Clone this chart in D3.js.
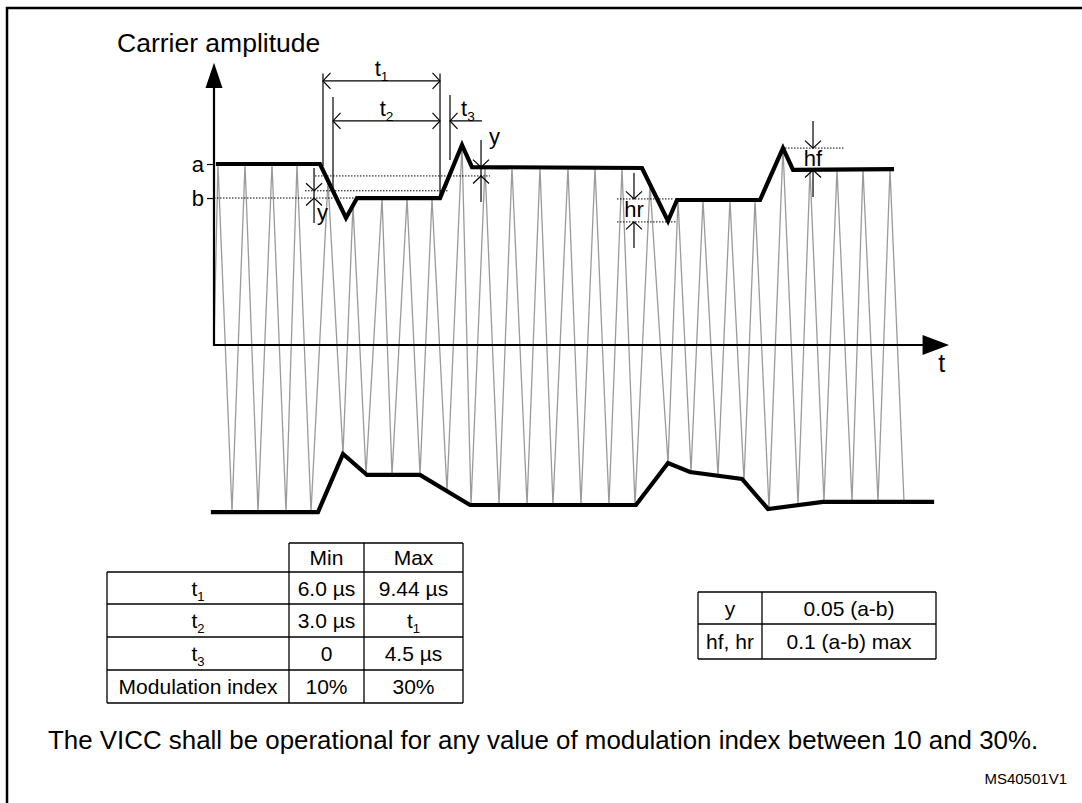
<!DOCTYPE html>
<html><head><meta charset="utf-8">
<script src="https://cdn.jsdelivr.net/npm/d3@7"></script>
<style>
html,body{margin:0;padding:0;background:#fff;}
svg{display:block;}
text{font-family:"Liberation Sans",Arial,Helvetica,sans-serif;fill:#000;}
</style></head><body>
<svg id="chart" width="1082" height="803"></svg>
<script>
// ---------------- DATA (time in arbitrary units 0..100, amplitude with a = 1) ----------------
const levelLabels = ["a", "b"];
const levelValues = [1.0, 0.812];

const topEnvT = [0.54, 14.42, 17.96, 19.46, 30.75, 33.74, 35.10, 58.23, 61.77, 62.99, 74.29, 77.41, 78.78, 92.24];
const topEnvV = [1.000, 1.000, 0.702, 0.812, 0.812, 1.105, 0.983, 0.978, 0.685, 0.801, 0.801, 1.088, 0.967, 0.972];

const botEnvT = [-0.14, 14.15, 17.55, 20.82, 28.03, 34.83, 57.41, 61.77, 64.76, 71.84, 75.37, 82.86, 97.69];
const botEnvV = [-0.923, -0.923, -0.602, -0.718, -0.718, -0.884, -0.884, -0.652, -0.702, -0.740, -0.906, -0.867, -0.867];

const carrierTopT = [0.54, 4.22, 7.89, 11.29, 15.51, 18.91, 22.86, 26.26, 29.66, 33.74, 36.87, 40.54, 44.35, 48.16, 51.84, 55.51, 59.32, 63.13, 66.53, 70.20, 73.61, 77.41, 81.09, 84.76, 88.30, 91.97];
const carrierTopV = [1.000, 1.000, 1.000, 1.000, 0.908, 0.772, 0.812, 0.812, 0.812, 1.105, 0.983, 0.982, 0.981, 0.980, 0.980, 0.978, 0.888, 0.801, 0.801, 0.801, 0.801, 1.088, 0.968, 0.969, 0.971, 0.972];
const carrierBotT = [2.45, 5.99, 9.80, 13.20, 17.55, 20.68, 24.22, 28.03, 31.70, 34.97, 38.78, 42.59, 46.12, 49.93, 53.74, 57.28, 61.77, 64.90, 68.57, 72.11, 75.51, 79.46, 82.99, 86.80, 90.34, 93.88];
const carrierBotV = [-0.923, -0.923, -0.923, -0.923, -0.602, -0.713, -0.718, -0.718, -0.808, -0.884, -0.884, -0.884, -0.884, -0.884, -0.884, -0.884, -0.652, -0.702, -0.723, -0.753, -0.906, -0.885, -0.867, -0.867, -0.867, -0.867];

// dotted reference lines: [tStart, tEnd, value]
const dottedStart = [0, 13.74, 12.38, 54.83, 54.83, 77.69];
const dottedEnd   = [19.46, 37.55, 31.84, 62.45, 62.99, 85.85];
const dottedValue = [0.812, 0.934, 0.852, 0.807, 0.680, 1.088];

// tolerance markers (vertical with inward arrows)
const markerNames = ["y", "y", "hr", "hf"];
const markerT     = [13.61, 36.33, 57.14, 81.50];
const markerUpTip = [0.852, 0.983, 0.807, 1.088];   // arrow pointing down onto this level
const markerLoTip = [0.812, 0.934, 0.680, 0.967];   // arrow pointing up onto this level
const markerTop   = [0.978, 1.133, 0.950, 1.238];
const markerBot   = [0.674, 0.790, 0.536, 0.818];

// timing dimensions
const timeNames = ["1", "2", "3"];
const timeStart = [14.83, 16.19, 30.75];
const timeEnd   = [30.75, 30.75, 32.11];

// tables
const t1Header = ["Min", "Max"];
const t1Params = [["t", "1"], ["t", "2"], ["t", "3"], ["Modulation index", ""]];
const t1Min = ["6.0 µs", "3.0 µs", "0", "10%"];
const t1Max = [["9.44 µs", ""], ["t", "1"], ["4.5 µs", ""], ["30%", ""]];
const t2Params = ["y", "hf, hr"];
const t2Values = ["0.05 (a-b)", "0.1 (a-b) max"];

const footnote = "The VICC shall be operational for any value of modulation index between 10 and 30%.";
const figId = "MS40501V1";

// ---------------- DRAW ----------------
const svg = d3.select("#chart");
const x = d3.scaleLinear().domain([0, 100]).range([214, 949]);
const y = d3.scaleLinear().domain([0, 1]).range([345, 164]);

// frame
svg.append("path").attr("d", "M7,803V8H1082").attr("fill", "none").attr("stroke", "#000").attr("stroke-width", 2.5);

// carrier
const carrierPts = [[0, 0]];
carrierTopT.forEach((t, i) => {
  carrierPts.push([t, carrierTopV[i]]);
  carrierPts.push([carrierBotT[i], carrierBotV[i]]);
});
const line = d3.line().x(d => x(d[0])).y(d => y(d[1]));
svg.append("path").attr("d", line(carrierPts)).attr("fill", "none")
  .attr("stroke", "#9a9a9a").attr("stroke-width", 1.3).attr("stroke-linejoin", "miter");

// dotted lines
dottedValue.forEach((v, i) => {
  svg.append("line").attr("x1", x(dottedStart[i])).attr("x2", x(dottedEnd[i]))
    .attr("y1", y(v)).attr("y2", y(v)).attr("stroke", "#000").attr("stroke-width", 1)
    .attr("stroke-dasharray", "1.5,1.5");
});

// axes
const yAxis = d3.axisLeft(y).tickValues(levelValues).tickFormat((d, i) => levelLabels[i])
  .tickSize(7).tickSizeOuter(0).tickPadding(3);
const yg = svg.append("g").attr("transform", `translate(${x(0)},0)`).call(yAxis);
yg.select(".domain").remove();
yg.selectAll(".tick line").attr("stroke", "#000").attr("stroke-width", 1.2);
yg.selectAll(".tick text").attr("font-size", 22).attr("font-family", '"Liberation Sans",Arial,sans-serif').attr("fill", "#000");

svg.append("line").attr("x1", x(0)).attr("x2", x(0)).attr("y1", y(0) + 1).attr("y2", y(1.43))
  .attr("stroke", "#000").attr("stroke-width", 2.2);
svg.append("path").attr("d", `M${x(0)},${y(1.56)}L${x(0) - 8.5},${y(1.42)}L${x(0) + 8.5},${y(1.42)}Z`).attr("fill", "#000");
svg.append("line").attr("x1", x(0) - 1).attr("x2", x(96.7)).attr("y1", y(0)).attr("y2", y(0))
  .attr("stroke", "#000").attr("stroke-width", 2.2);
svg.append("path").attr("d", `M${x(100)},${y(0)}L${x(96.4)},${y(0) - 10}L${x(96.4)},${y(0) + 10}Z`).attr("fill", "#000");

svg.append("text").attr("x", 117).attr("y", 52).attr("font-size", 26.5).text("Carrier amplitude");
svg.append("text").attr("x", x(99)).attr("y", y(0) + 27).attr("font-size", 25).attr("text-anchor", "middle").text("t");

// envelopes
const topEnv = topEnvT.map((t, i) => [t, topEnvV[i]]);
const botEnv = botEnvT.map((t, i) => [t, botEnvV[i]]);
[topEnv, botEnv].forEach(pts => {
  svg.append("path").attr("d", line(pts)).attr("fill", "none").attr("stroke", "#000")
    .attr("stroke-width", 4.2).attr("stroke-linejoin", "miter").attr("stroke-linecap", "square");
});

// helper: open chevron arrowheads
function chevron(px, py, dir) {
  const a = 8, b = 7.5;
  let d;
  if (dir === "down") d = `M${px - a},${py - b}L${px},${py}L${px + a},${py - b}`;
  if (dir === "up") d = `M${px - a},${py + b}L${px},${py}L${px + a},${py + b}`;
  if (dir === "left") d = `M${px + b},${py - a}L${px},${py}L${px + b},${py + a}`;
  if (dir === "right") d = `M${px - b},${py - a}L${px},${py}L${px - b},${py + a}`;
  svg.append("path").attr("d", d).attr("fill", "none").attr("stroke", "#000").attr("stroke-width", 1.2);
}
function vline(xx, y1, y2) {
  svg.append("line").attr("x1", xx).attr("x2", xx).attr("y1", y1).attr("y2", y2)
    .attr("stroke", "#000").attr("stroke-width", 1.2);
}
function hline(x1, x2, yy) {
  svg.append("line").attr("x1", x1).attr("x2", x2).attr("y1", yy).attr("y2", yy)
    .attr("stroke", "#000").attr("stroke-width", 1.2);
}
function subText(px, py, main, sub, size, anchor) {
  const t = svg.append("text").attr("x", px).attr("y", py).attr("font-size", size).attr("text-anchor", anchor || "middle");
  t.append("tspan").text(main);
  if (sub) t.append("tspan").attr("font-size", size * 0.62).attr("dy", size * 0.24).text(sub);
  return t;
}

// tolerance markers
markerNames.forEach((nm, i) => {
  const xx = x(markerT[i]);
  const up = y(markerUpTip[i]), lo = y(markerLoTip[i]);
  if (nm === "y") {
    vline(xx, y(markerTop[i]), y(markerBot[i]));
    chevron(xx, up, "down");
    chevron(xx, lo, "up");
  } else {
    vline(xx, y(markerTop[i]), up);
    vline(xx, lo, y(markerBot[i]));
    chevron(xx, up, "down");
    chevron(xx, lo, "up");
  }
});
svg.append("text").attr("x", x(markerT[0]) + 3).attr("y", y(0.674) - 3).attr("font-size", 22).text("y");
svg.append("text").attr("x", x(markerT[1]) + 8).attr("y", y(1.105) - 1).attr("font-size", 22).text("y");
svg.append("text").attr("x", x(markerT[2])).attr("y", (y(markerUpTip[2]) + y(markerLoTip[2])) / 2 + 7).attr("font-size", 22).attr("text-anchor", "middle").text("hr");
svg.append("text").attr("x", x(markerT[3])).attr("y", (y(markerUpTip[3]) + y(markerLoTip[3])) / 2 + 7).attr("font-size", 22).attr("text-anchor", "middle").text("hf");

// timing dimensions
const extTop = [1.50, 1.37, 1.381];
const extBot = [0.989, 0.840, 1.022];
vline(x(timeStart[0]), y(extTop[0]), y(extBot[0]));
vline(x(timeEnd[0]), y(extTop[0]), y(0.812));
vline(x(timeStart[1]), y(extTop[1]), y(extBot[1]));
vline(x(timeEnd[2]), y(extTop[2]), y(extBot[2]));
const dimV = [1.459, 1.238, 1.238];
// t1
hline(x(timeStart[0]), x(timeEnd[0]), y(dimV[0]));
chevron(x(timeStart[0]), y(dimV[0]), "left");
chevron(x(timeEnd[0]), y(dimV[0]), "right");
subText((x(timeStart[0]) + x(timeEnd[0])) / 2, y(dimV[0]) - 5, "t", timeNames[0], 22);
// t2
hline(x(timeStart[1]), x(timeEnd[1]), y(dimV[1]));
chevron(x(timeStart[1]), y(dimV[1]), "left");
chevron(x(timeEnd[1]), y(dimV[1]), "right");
subText((x(timeStart[1]) + x(timeEnd[1])) / 2, y(dimV[1]) - 5, "t", timeNames[1], 22);
// t3
hline(x(timeEnd[2]), x(timeEnd[2]) + 32, y(dimV[2]));
chevron(x(timeEnd[2]), y(dimV[2]), "left");
subText(x(timeEnd[2]) + 11, y(dimV[2]) - 5, "t", timeNames[2], 22, "start");

// ---------------- TABLE 1 ----------------
const c1 = [107, 289, 364, 463];
const r1 = [543, 572, 604, 637, 670, 703];
const fs = 21;
const tg = svg.append("g").attr("stroke", "#000").attr("stroke-width", 1.3);
tg.append("line").attr("x1", c1[1]).attr("x2", c1[3]).attr("y1", r1[0]).attr("y2", r1[0]);
r1.slice(1).forEach(r => tg.append("line").attr("x1", c1[0]).attr("x2", c1[3]).attr("y1", r).attr("y2", r));
tg.append("line").attr("x1", c1[0]).attr("x2", c1[0]).attr("y1", r1[1]).attr("y2", r1[5]);
c1.slice(1).forEach(c => tg.append("line").attr("x1", c).attr("x2", c).attr("y1", r1[0]).attr("y2", r1[5]));
const mid = (a, b) => (a + b) / 2;
t1Header.forEach((h, j) => subText(mid(c1[j + 1], c1[j + 2]), mid(r1[0], r1[1]) + 7.5, h, "", fs));
t1Params.forEach((p, i) => {
  subText(mid(c1[0], c1[1]), mid(r1[i + 1], r1[i + 2]) + 7.5, p[0], p[1], fs);
  subText(mid(c1[1], c1[2]), mid(r1[i + 1], r1[i + 2]) + 7.5, t1Min[i], "", fs);
  subText(mid(c1[2], c1[3]), mid(r1[i + 1], r1[i + 2]) + 7.5, t1Max[i][0], t1Max[i][1], fs);
});

// ---------------- TABLE 2 ----------------
const c2 = [698, 762, 936];
const r2 = [592, 624, 659];
const tg2 = svg.append("g").attr("stroke", "#000").attr("stroke-width", 1.3);
r2.forEach(r => tg2.append("line").attr("x1", c2[0]).attr("x2", c2[2]).attr("y1", r).attr("y2", r));
c2.forEach(c => tg2.append("line").attr("x1", c).attr("x2", c).attr("y1", r2[0]).attr("y2", r2[2]));
t2Params.forEach((p, i) => {
  subText(mid(c2[0], c2[1]), mid(r2[i], r2[i + 1]) + 7.5, p, "", fs);
  subText(mid(c2[1], c2[2]), mid(r2[i], r2[i + 1]) + 7.5, t2Values[i], "", fs);
});

// footnote
svg.append("text").attr("x", 48).attr("y", 749).attr("font-size", 25.9).text(footnote);
svg.append("text").attr("x", 1067).attr("y", 784).attr("font-size", 15).attr("text-anchor", "end").text(figId);
</script></body></html>
